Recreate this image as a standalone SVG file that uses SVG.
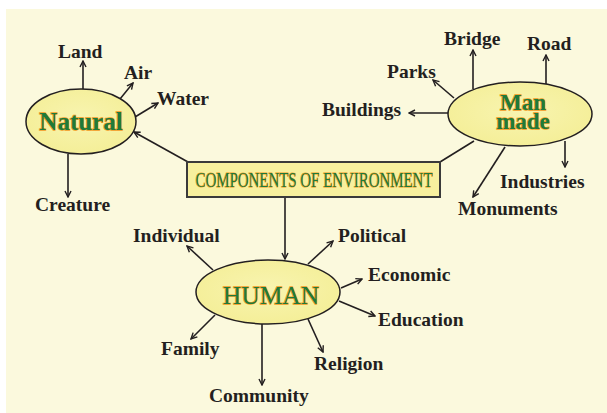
<svg xmlns="http://www.w3.org/2000/svg" width="607" height="413" viewBox="0 0 607 413">
<style>
.lbl{font-family:"Liberation Serif","DejaVu Serif",serif;font-weight:bold;font-size:19.5px;fill:#231F20}
.hub{font-family:"Liberation Serif","DejaVu Serif",serif;fill:#1E7A3A;stroke:#F39A1E;stroke-width:1.3px;paint-order:stroke;text-anchor:middle}
.ell{fill:url(#eg);stroke:#231F20;stroke-width:1.5}
.con{stroke:#231F20;stroke-width:1.6;fill:none}
.arr{marker-end:url(#ah)}
</style>
<defs>
<radialGradient id="eg" cx="50%" cy="45%" r="60%">
<stop offset="0" stop-color="#F8F4B0"/>
<stop offset="1" stop-color="#F4EE96"/>
</radialGradient>
<marker id="ah" viewBox="0 0 8 8" refX="7" refY="4" markerWidth="8" markerHeight="8" markerUnits="userSpaceOnUse" orient="auto">
<path d="M1,1 L7,4 L1,7" fill="none" stroke="#231F20" stroke-width="1.4"/>
</marker>
</defs>
<rect x="0" y="0" width="607" height="413" fill="#FFFFFF"/>
<rect x="6" y="9" width="601" height="404" fill="#FBF9DD"/>

<g id="connectors">
<line class="con arr" x1="188" y1="162" x2="134" y2="132"/>
<line class="con" x1="440" y1="162" x2="474" y2="141"/>
<line class="con arr" x1="285" y1="197" x2="285" y2="259"/>
<line class="con arr" x1="83" y1="89" x2="83" y2="61"/>
<line class="con arr" x1="120" y1="99" x2="133" y2="83"/>
<line class="con arr" x1="135" y1="117" x2="158" y2="103"/>
<line class="con arr" x1="68" y1="154" x2="68" y2="197"/>
<line class="con arr" x1="473" y1="89" x2="473" y2="50"/>
<line class="con arr" x1="546" y1="84" x2="546" y2="55"/>
<line class="con arr" x1="454" y1="98" x2="433" y2="80"/>
<line class="con arr" x1="448" y1="113" x2="409" y2="113"/>
<line class="con arr" x1="565" y1="141" x2="565" y2="167"/>
<line class="con arr" x1="505" y1="147" x2="473" y2="197"/>
<line class="con arr" x1="213" y1="270" x2="187" y2="246"/>
<line class="con arr" x1="308" y1="264" x2="333" y2="241"/>
<line class="con arr" x1="341" y1="288" x2="362" y2="279"/>
<line class="con arr" x1="339" y1="301" x2="375" y2="316"/>
<line class="con arr" x1="308" y1="319" x2="323" y2="352"/>
<line class="con arr" x1="262" y1="324" x2="262" y2="385"/>
<line class="con arr" x1="215" y1="315" x2="191" y2="339"/>
</g>

<g id="components">
<rect x="187" y="162" width="253" height="35" fill="#F7F09E" stroke="#3A3A3A" stroke-width="2"/>
<text class="hub" x="314" y="187" font-size="22" textLength="237" lengthAdjust="spacingAndGlyphs" style="stroke-width:1.1px">COMPONENTS OF ENVIRONMENT</text>
</g>

<g id="natural">
<ellipse class="ell" cx="81" cy="121.5" rx="55" ry="32.5"/>
<text class="hub" x="81" y="130" font-size="25" font-weight="bold">Natural</text>
</g>

<g id="manmade">
<ellipse class="ell" cx="520" cy="114" rx="72" ry="32"/>
<text class="hub" x="523" y="110" font-size="23" font-weight="bold"><tspan x="523" y="110">Man</tspan><tspan x="523" y="129">made</tspan></text>
</g>

<g id="human">
<ellipse class="ell" cx="268" cy="292" rx="72" ry="32"/>
<text class="hub" x="271" y="304" font-size="25.5">HUMAN</text>
</g>

<g id="labels">
<text class="lbl" x="58" y="58">Land</text>
<text class="lbl" x="124" y="79">Air</text>
<text class="lbl" x="157" y="105">Water</text>
<text class="lbl" x="35" y="211">Creature</text>
<text class="lbl" x="444" y="45">Bridge</text>
<text class="lbl" x="527" y="50">Road</text>
<text class="lbl" x="387" y="78">Parks</text>
<text class="lbl" x="322" y="116">Buildings</text>
<text class="lbl" x="500" y="188">Industries</text>
<text class="lbl" x="458" y="215">Monuments</text>
<text class="lbl" x="133" y="242">Individual</text>
<text class="lbl" x="338" y="242">Political</text>
<text class="lbl" x="368" y="281">Economic</text>
<text class="lbl" x="378" y="326">Education</text>
<text class="lbl" x="314" y="370">Religion</text>
<text class="lbl" x="209" y="402">Community</text>
<text class="lbl" x="161" y="355">Family</text>
</g>
</svg>
